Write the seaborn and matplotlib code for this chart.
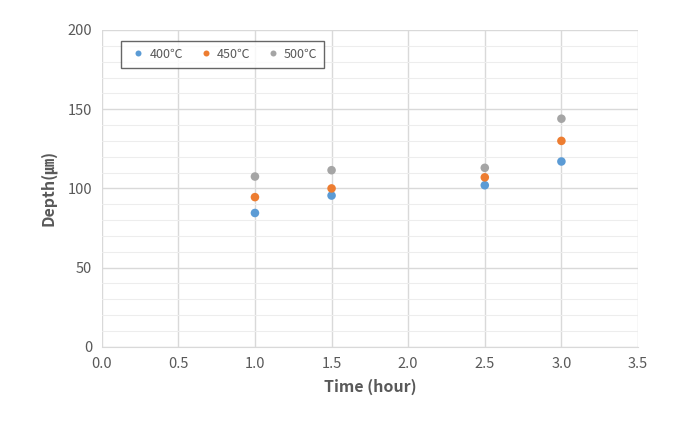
import matplotlib
matplotlib.use("Agg")
import matplotlib.pyplot as plt
import seaborn as sns
import pandas as pd
from matplotlib.ticker import MultipleLocator

time_h = [1.0, 1.5, 2.5, 3.0]
depth_400 = [84.5, 95.5, 102, 117]
depth_450 = [94.5, 100, 107, 130]
depth_500 = [107.5, 111.5, 113, 144]
series_names = ["400℃", "450℃", "500℃"]
colors = ["#5B9BD5", "#ED7D31", "#A5A5A5"]

rows = []
for name, vals in zip(series_names, [depth_400, depth_450, depth_500]):
    for t, v in zip(time_h, vals):
        rows.append({"Time": t, "Depth": v, "Series": name})
df = pd.DataFrame(rows)

sns.set_style("white")
plt.rcParams['font.family'] = ['Noto Sans CJK KR', 'DejaVu Sans']

fig = plt.figure(figsize=(6.92, 4.22), dpi=100)
ax = fig.add_axes([0.147, 0.178, 0.775, 0.751])

sns.scatterplot(data=df, x="Time", y="Depth", hue="Series", palette=colors,
                s=38, edgecolor="none", ax=ax, zorder=3)

ax.set_xlim(0, 3.5)
ax.set_ylim(0, 200)
ax.xaxis.set_major_locator(MultipleLocator(0.5))
ax.yaxis.set_major_locator(MultipleLocator(50))
ax.yaxis.set_minor_locator(MultipleLocator(10))
ax.grid(True, which="major", color="#D9D9D9", linewidth=1.0)
ax.grid(True, which="minor", axis="y", color="#EDEDED", linewidth=0.8)
ax.set_axisbelow(True)
ax.xaxis.set_major_formatter(matplotlib.ticker.FormatStrFormatter("%.1f"))

for s in ["top", "right", "left"]:
    ax.spines[s].set_visible(False)
ax.spines["bottom"].set_color("#D9D9D9")

ax.tick_params(axis="both", length=0, colors="#595959", labelsize=10.5, pad=7)
ax.set_xlabel("Time (hour)", fontsize=11.5, fontweight="bold", color="#595959", labelpad=6)
ax.set_ylabel("Depth(㎛)", fontsize=11.5, fontweight="bold", color="#595959", labelpad=8)

leg = ax.legend(loc="upper left", bbox_to_anchor=(0.025, 0.985), ncol=3, frameon=True,
                fancybox=False, edgecolor="#404040", fontsize=9, markerscale=0.7,
                handletextpad=0.1, handlelength=1.6, columnspacing=1.0, borderpad=0.55)
leg.get_frame().set_linewidth(1.0)
for t in leg.get_texts():
    t.set_color("#595959")

fig.savefig("out.png", dpi=100)
